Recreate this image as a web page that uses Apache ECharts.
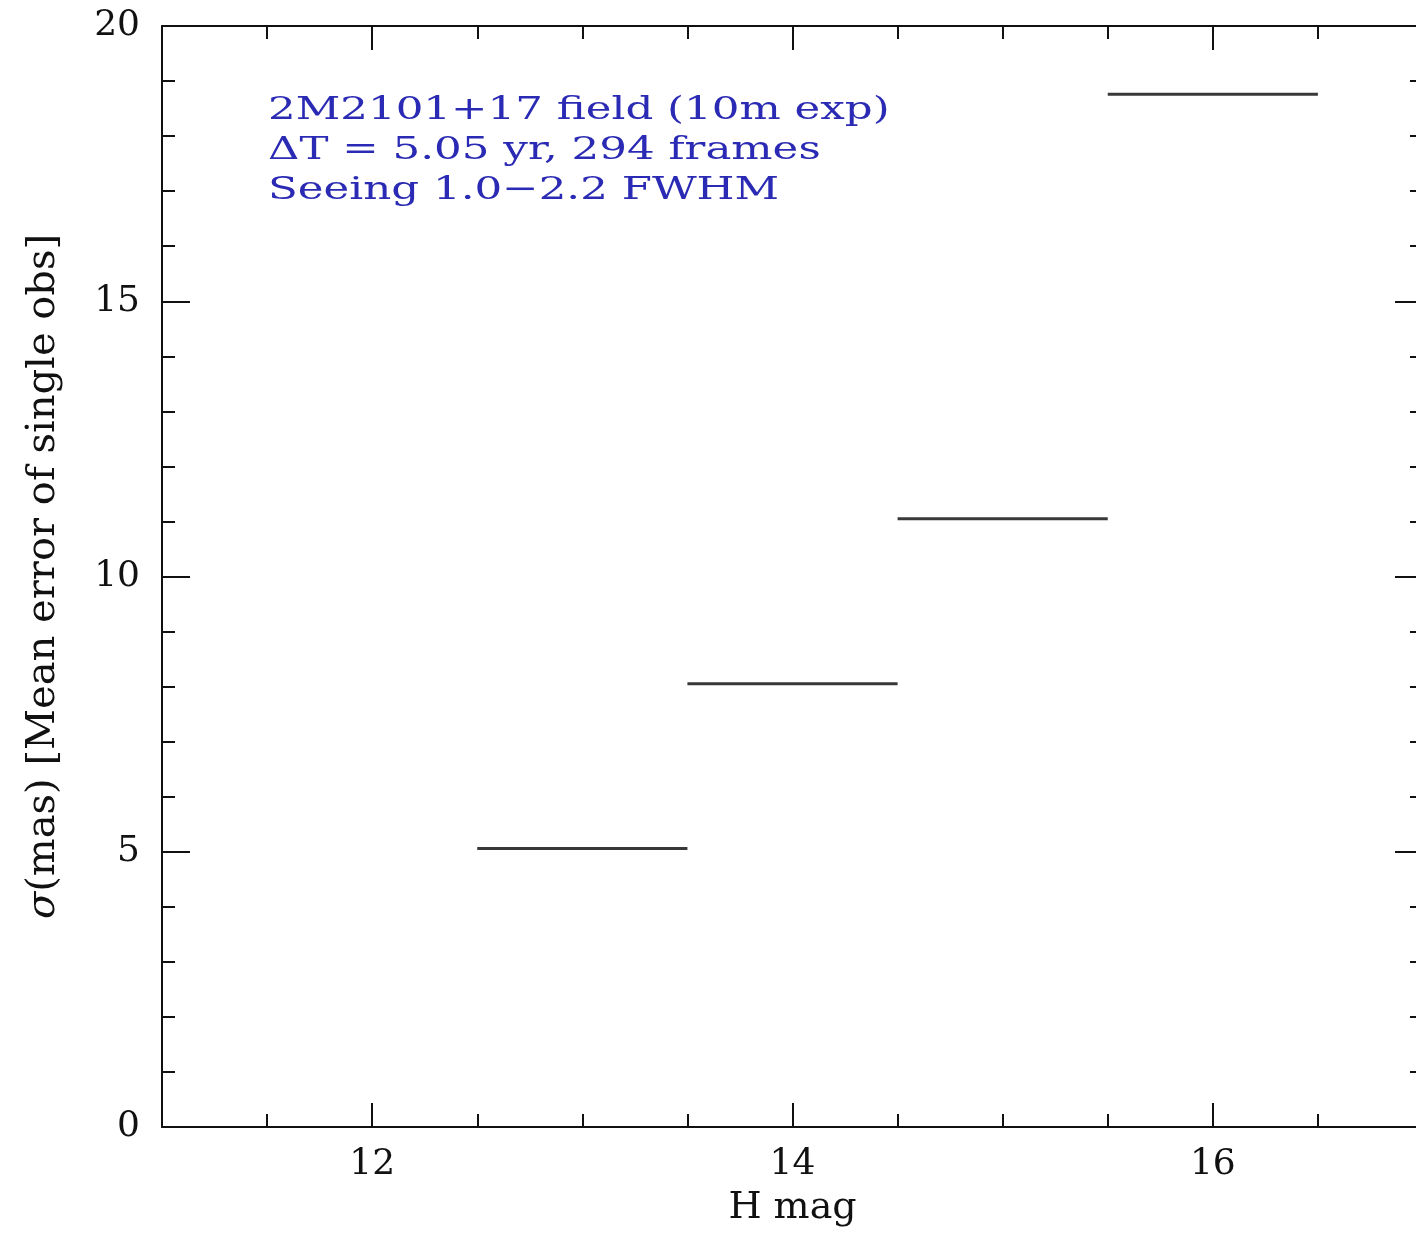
<!DOCTYPE html>
<html>
<head>
<meta charset="utf-8">
<script src="https://cdn.jsdelivr.net/npm/echarts@6/dist/echarts.min.js"></script>
<style>
html,body{margin:0;padding:0;background:#fff;overflow:hidden;width:1416px;height:1241px;}
#chart{width:1430px;height:1241px;}
</style>
</head>
<body>
<div id="chart"></div>
<script>
// ---- data ----
const binLow = [12.5, 13.5, 14.5, 15.5];
const binHigh = [13.5, 14.5, 15.5, 16.5];
const sigmaMas = [5.06, 8.05, 11.05, 18.76];
const xMajorTicks = [12, 14, 16];
const annotationLines = [
  '2M2101+17 field (10m exp)',
  '\u0394T = 5.05 yr, 294 frames',
  'Seeing 1.0\u22122.2 FWHM'
];

const FONT = '"DejaVu Serif", "Liberation Serif", serif';
const chart = echarts.init(document.getElementById('chart'));

const segData = binLow.map((lo, i) => [lo, binHigh[i], sigmaMas[i]]);

const axisLine = {show: true, onZero: false, lineStyle: {color: '#111', width: 2}};

function xMinorAxis(pos) {
  return {
    type: 'value', position: pos, min: 11, max: 17, interval: 0.5,
    axisLine: axisLine,
    axisTick: {show: true, inside: true, length: 13, lineStyle: {color: '#111', width: 2}},
    axisLabel: {show: false},
    splitLine: {show: false}
  };
}
function xMajorAxis(pos, labels) {
  const ax = {
    type: 'value', position: pos, min: 11, max: 17,
    axisLine: {show: false, onZero: false},
    axisTick: {show: true, inside: true, length: 24, customValues: xMajorTicks, lineStyle: {color: '#111', width: 2}},
    axisLabel: labels ? {show: true, customValues: xMajorTicks, margin: 20, fontFamily: FONT, fontSize: 36, color: '#111'} : {show: false},
    splitLine: {show: false}
  };
  if (labels) {
    ax.name = 'H mag';
    ax.nameLocation = 'middle';
    ax.nameGap = 62;
    ax.nameTextStyle = {fontFamily: FONT, fontSize: 38, color: '#111'};
  }
  return ax;
}
function yAxis(pos, labels) {
  const ax = {
    type: 'value', position: pos, min: 0, max: 20, interval: 5,
    axisLine: axisLine,
    axisTick: {show: true, inside: true, length: 28, lineStyle: {color: '#111', width: 2}},
    minorTick: {show: true, splitNumber: 5, length: 13, lineStyle: {color: '#111', width: 2}},
    axisLabel: labels ? {show: true, margin: 22, fontFamily: FONT, fontSize: 36, color: '#111'} : {show: false},
    splitLine: {show: false}
  };
  if (labels) {
    ax.name = '{i|\u03c3}(mas) [Mean error of single obs]';
    ax.nameLocation = 'middle';
    ax.nameGap = 98;
    ax.nameTextStyle = {
      fontFamily: FONT, fontSize: 40, color: '#111',
      rich: {i: {fontFamily: FONT, fontSize: 40, fontStyle: 'italic', color: '#111'}}
    };
  }
  return ax;
}

const option = {
  backgroundColor: '#ffffff',
  animation: false,
  grid: {left: 162, top: 26, right: 7, bottom: 114, containLabel: false, outerBoundsMode: 'none'},
  xAxis: [
    xMinorAxis('bottom'),
    xMajorAxis('bottom', true),
    xMinorAxis('top'),
    xMajorAxis('top', false)
  ],
  yAxis: [
    yAxis('left', true),
    yAxis('right', false)
  ],
  graphic: annotationLines.map((t, i) => ({
    type: 'text',
    left: 268,
    top: 95 + i * 40,
    scaleX: 1.36,
    style: {text: t, fontFamily: FONT, fontSize: 32, fill: '#2a2ab4'}
  })),
  series: [{
    type: 'custom',
    xAxisIndex: 0,
    yAxisIndex: 0,
    data: segData,
    renderItem: function (params, api) {
      const p1 = api.coord([api.value(0), api.value(2)]);
      const p2 = api.coord([api.value(1), api.value(2)]);
      return {
        type: 'line',
        shape: {x1: p1[0], y1: p1[1], x2: p2[0], y2: p2[1]},
        style: {stroke: '#383838', lineWidth: 3}
      };
    }
  }]
};
chart.setOption(option);
</script>
</body>
</html>
